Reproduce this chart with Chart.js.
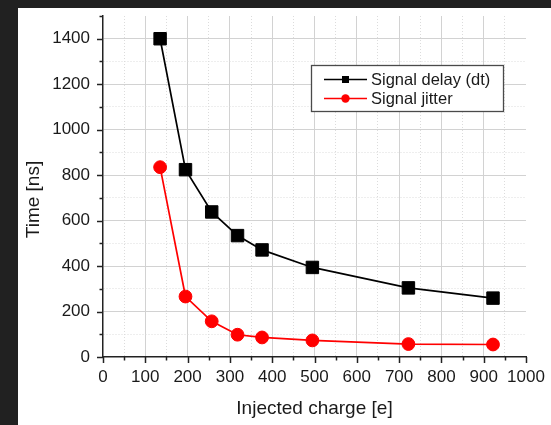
<!DOCTYPE html>
<html>
<head>
<meta charset="utf-8">
<title>Signal delay and jitter vs injected charge</title>
<script src="https://cdn.jsdelivr.net/npm/chart.js@4/dist/chart.umd.min.js"></script>
<style>
  html, body { margin: 0; padding: 0; width: 551px; height: 425px; overflow: hidden; background: #212121; }
  #panel { position: absolute; left: 18px; top: 8px; right: 0; bottom: 0; background: #fff; }
  #wrap { position: absolute; left: 0; top: 0; width: 551px; height: 425px; }
</style>
</head>
<body>
<div id="panel"></div>
<div id="wrap"><canvas id="delayChart" width="551" height="425"></canvas></div>
<script>
// Measured points
const chargeE = [135, 195, 257, 318, 376, 495, 722, 922];
const delayNs = [1400, 824, 638, 534, 471, 394, 304, 259];
const jitterNs = [835, 266, 157, 98, 86, 73, 57, 55];

// Axis ticks (labelled ones; minor ticks sit halfway between)
const xTicks = [0, 100, 200, 300, 400, 500, 600, 700, 800, 900, 1000];
const yTicks = [0, 200, 400, 600, 800, 1000, 1200, 1400];

const FONT = '"Liberation Sans", Arial, Helvetica, sans-serif';
const INK = "#1a1a1a";
Chart.defaults.font.family = FONT;
Chart.defaults.color = INK;

const xStep = xTicks[1] - xTicks[0];
const yStep = yTicks[1] - yTicks[0];

const toPoints = (xs, ys) => xs.map((x, i) => ({ x: x, y: ys[i] }));

// major grid solid, minor grid dotted, nothing on the far edges
const gridColor = (step, max) => (ctx) => {
  const v = ctx.tick.value;
  if (v === 0 || v === max) return "rgba(0,0,0,0)";
  return v % step === 0 ? "#d2d2d2" : "#dcdcdc";
};
const gridDash = (step) => (ctx) => (ctx.tick && ctx.tick.value % step === 0 ? [] : [1, 2]);

// outward tick marks, long for labelled values and short for the minor ones
const tickMarks = {
  id: "tickMarks",
  afterDraw(chart) {
    const { ctx, chartArea } = chart;
    ctx.save();
    ctx.strokeStyle = "#222";
    ctx.lineWidth = 1.5;
    const xs = chart.scales.x;
    xs.ticks.forEach((t) => {
      const px = Math.round(xs.getPixelForValue(t.value)) + 0.5;
      const len = t.value % xStep === 0 ? 6 : 3.5;
      ctx.beginPath();
      ctx.moveTo(px, chartArea.bottom);
      ctx.lineTo(px, chartArea.bottom + len);
      ctx.stroke();
    });
    const ys = chart.scales.y;
    ys.ticks.forEach((t) => {
      const py = Math.round(ys.getPixelForValue(t.value)) + 0.5;
      const len = t.value % yStep === 0 ? 6 : 3.5;
      ctx.beginPath();
      ctx.moveTo(chartArea.left, py);
      ctx.lineTo(chartArea.left - len, py);
      ctx.stroke();
    });
    ctx.restore();
  },
};

// vertical axis title, placed a little below the middle of the axis
const yTitle = {
  id: "yTitle",
  afterDraw(chart, args, opts) {
    const { ctx, chartArea } = chart;
    ctx.save();
    ctx.translate(opts.x, (chartArea.top + chartArea.bottom) / 2 + opts.shift);
    ctx.rotate(-Math.PI / 2);
    ctx.font = opts.size + "px " + FONT;
    ctx.fillStyle = INK;
    ctx.textAlign = "center";
    ctx.textBaseline = "middle";
    ctx.fillText(opts.text, 0, 0);
    ctx.restore();
  },
};

// boxed legend inside the plot
const boxLegend = {
  id: "boxLegend",
  afterDraw(chart, args, opts) {
    const { ctx, chartArea } = chart;
    const x0 = chartArea.left + opts.left;
    const y0 = chartArea.top + opts.top;
    ctx.save();
    ctx.fillStyle = "#fff";
    ctx.fillRect(x0, y0, opts.width, opts.height);
    ctx.strokeStyle = "#4a4a4a";
    ctx.lineWidth = 1.3;
    ctx.strokeRect(x0 + 0.5, y0 + 0.5, opts.width, opts.height);
    ctx.font = opts.size + "px " + FONT;
    ctx.textBaseline = "middle";
    chart.data.datasets.forEach((ds, i) => {
      const cy = y0 + opts.firstRow + i * opts.rowGap;
      const lx = x0 + opts.lineStart;
      const mx = lx + opts.lineLen / 2;
      ctx.strokeStyle = ds.borderColor;
      ctx.lineWidth = 1.6;
      ctx.beginPath();
      ctx.moveTo(lx, cy);
      ctx.lineTo(lx + opts.lineLen, cy);
      ctx.stroke();
      ctx.fillStyle = ds.pointBackgroundColor;
      if (ds.pointStyle === "rect") {
        ctx.fillRect(mx - 3.5, cy - 3.5, 7, 7);
      } else {
        ctx.beginPath();
        ctx.arc(mx, cy, 4.2, 0, Math.PI * 2);
        ctx.fill();
      }
      ctx.fillStyle = INK;
      ctx.fillText(ds.label, lx + opts.lineLen + 4, cy + 0.5);
    });
    ctx.restore();
  },
};

new Chart(document.getElementById("delayChart"), {
  type: "scatter",
  data: {
    datasets: [
      {
        label: "Signal delay (dt)",
        data: toPoints(chargeE, delayNs),
        showLine: true,
        borderColor: "#000",
        borderWidth: 1.7,
        pointStyle: "rect",
        pointRadius: 8.8,
        pointBackgroundColor: "#000",
        pointBorderColor: "#000",
        pointBorderWidth: 1,
      },
      {
        label: "Signal jitter",
        data: toPoints(chargeE, jitterNs),
        showLine: true,
        borderColor: "#ff0000",
        borderWidth: 1.7,
        pointStyle: "circle",
        pointRadius: 6.4,
        pointBackgroundColor: "#ff0000",
        pointBorderColor: "#ff0000",
        pointBorderWidth: 1,
      },
    ],
  },
  options: {
    responsive: false,
    animation: false,
    devicePixelRatio: 1,
    layout: { padding: { top: 16, right: 25, left: 0, bottom: 0 } },
    plugins: {
      legend: { display: false },
      tooltip: { enabled: false },
      yTitle: { text: "Time [ns]", x: 33.5, shift: 13, size: 19 },
      boxLegend: {
        left: 208, top: 49, width: 192, height: 46,
        firstRow: 14.5, rowGap: 19, lineStart: 13, lineLen: 43, size: 16.5,
      },
    },
    scales: {
      x: {
        type: "linear",
        min: xTicks[0],
        max: xTicks[xTicks.length - 1],
        afterFit: (scale) => {
          scale.height = 68;
          scale.paddingLeft = 0;
          scale.paddingRight = 0;
        },
        ticks: {
          stepSize: xStep / 2,
          autoSkip: false,
          maxRotation: 0,
          padding: 10,
          font: { size: 17 },
          callback: (v) => (xTicks.includes(v) ? String(v) : ""),
        },
        grid: { color: gridColor(xStep, xTicks[xTicks.length - 1]), lineWidth: 1, drawTicks: false },
        border: { display: true, color: "#222", width: 1.5, dash: gridDash(xStep) },
        title: { display: true, text: "Injected charge [e]", font: { size: 19 }, padding: { top: 0, bottom: 5 } },
      },
      y: {
        type: "linear",
        min: 0,
        max: 1500,
        afterFit: (scale) => {
          scale.width = 103;
          scale.paddingTop = 0;
          scale.paddingBottom = 0;
        },
        ticks: {
          stepSize: yStep / 2,
          autoSkip: false,
          padding: 13,
          font: { size: 17 },
          callback: (v) => (yTicks.includes(v) ? String(v) : ""),
        },
        grid: { color: gridColor(yStep, 1500), lineWidth: 1, drawTicks: false },
        border: { display: true, color: "#222", width: 1.5, dash: gridDash(yStep) },
        title: { display: false },
      },
    },
  },
  plugins: [tickMarks, yTitle, boxLegend],
});
</script>
</body>
</html>
